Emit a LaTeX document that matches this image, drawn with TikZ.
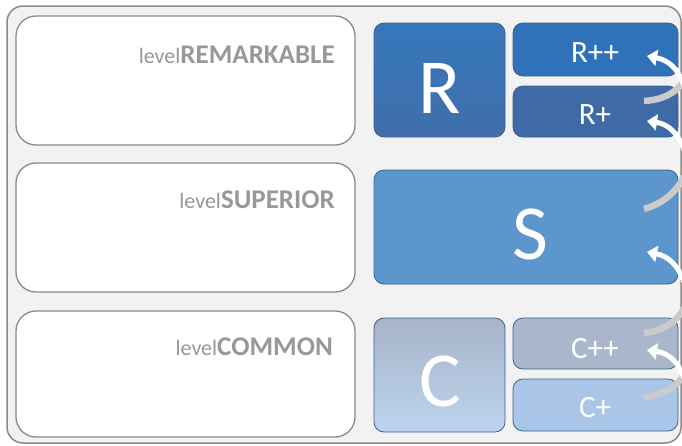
\documentclass[tikz,border=0pt]{standalone}
\usepackage{fontspec}
\setmainfont{Carlito}
\usetikzlibrary{arrows.meta}
\definecolor{framefill}{HTML}{F2F2F2}
\definecolor{framedraw}{HTML}{8A8A8A}
\definecolor{labelgray}{HTML}{989898}
\definecolor{rtop}{HTML}{3577BB}
\definecolor{rbot}{HTML}{416EAB}
\definecolor{rpp}{HTML}{2F72B9}
\definecolor{rp}{HTML}{3E6AA6}
\definecolor{sfill}{HTML}{5D96CC}
\definecolor{ctop}{HTML}{A7B4C8}
\definecolor{cbot}{HTML}{BCD4EF}
\definecolor{cpp}{HTML}{A9B6CC}
\definecolor{cp}{HTML}{A9C6E8}
\definecolor{bluedraw}{HTML}{3C5F8E}
\definecolor{arcgray}{HTML}{CBCBCB}
\tikzset{
  levelbox/.style={draw=framedraw, line width=1.3pt, fill=white, rounded corners=20pt},
  tilebox/.style={draw=bluedraw, line width=0.8pt, rounded corners=10pt},
  leveltext/.style={anchor=base east, text=labelgray, inner sep=0pt},
  bigletter/.style={text=white, font=\fontsize{78}{80}\selectfont, inner sep=0pt},
  smallletter/.style={text=white, font=\fontsize{31}{32}\selectfont, inner sep=0pt},
  whitearrow/.style={draw=white, line width=5pt, -{Triangle[width=16pt,length=10pt]}},
  grayarc/.style={draw=arcgray, line width=6.5pt}
}
\newcommand{\lvl}[1]{\fontsize{22}{24}\selectfont level\fontsize{27}{28}\selectfont\bfseries #1}
\begin{document}
\begin{tikzpicture}[x=1pt,y=-1pt]
\useasboundingbox (0,0) rectangle (682,445);
% outer frame
\draw[fill=framefill, draw=framedraw, line width=1.5pt, rounded corners=16pt] (7,6) rectangle (681,443);
% level boxes
\draw[levelbox] (16,16) rectangle (355,145);
\draw[levelbox] (16,163) rectangle (355,292);
\draw[levelbox] (16,311) rectangle (355,437);
\node[leveltext] (lr) at (335,63) {\lvl{REMARKABLE}};
\node[leveltext] (ls) at (335,208) {\lvl{SUPERIOR}};
\node[leveltext] (lc) at (333,355) {\lvl{COMMON}};
% tiles
\draw[tilebox, top color=rtop, bottom color=rbot] (374,23) rectangle (505,137);
\draw[tilebox, fill=rpp] (513,23) rectangle (678,76);
\draw[tilebox, fill=rp] (513,86) rectangle (678,137);
\draw[tilebox, fill=sfill] (374,170) rectangle (678,284);
\draw[tilebox, top color=ctop, bottom color=cbot] (374,318) rectangle (505,432);
\draw[tilebox, fill=cpp] (513,318) rectangle (678,369);
\draw[tilebox, fill=cp] (513,379) rectangle (678,431);
% tile labels
\node[bigletter] (R) at (440,88) {R};
\node[smallletter] (Rpp) at (595,53) {R++};
\node[smallletter] (Rp) at (595,115) {R+};
\node[bigletter] (S) at (530,234) {S};
\node[bigletter] (C) at (440,381) {C};
\node[smallletter] (Cpp) at (595,349) {C++};
\node[smallletter] (Cp) at (595,408) {C+};
% gray arcs
\coordinate (g1a) at (644,101); \coordinate (g1b) at (684,80);
\coordinate (g2a) at (644,209); \coordinate (g2b) at (684,176);
\coordinate (g3a) at (644,333); \coordinate (g3b) at (684,308);
\coordinate (g4a) at (644,397); \coordinate (g4b) at (684,374);
\draw[grayarc] (g1a) .. controls (662,100) and (677,93) .. (g1b);
\draw[grayarc] (g2a) .. controls (662,204) and (677,192) .. (g2b);
\draw[grayarc] (g3a) .. controls (662,331) and (677,322) .. (g3b);
\draw[grayarc] (g4a) .. controls (662,395) and (677,388) .. (g4b);
% white arrows
\coordinate (w1a) at (684,86); \coordinate (w1b) at (647,56);
\coordinate (w2a) at (684,150); \coordinate (w2b) at (647,121);
\coordinate (w3a) at (684,282); \coordinate (w3b) at (647,252);
\coordinate (w4a) at (684,378); \coordinate (w4b) at (647,350);
\draw[whitearrow] (w1a) .. controls (678,68) and (668,60) .. (w1b);
\draw[whitearrow] (w2a) .. controls (678,133) and (668,124) .. (w2b);
\draw[whitearrow] (w3a) .. controls (678,265) and (668,256) .. (w3b);
\draw[whitearrow] (w4a) .. controls (678,361) and (668,353) .. (w4b);
\end{tikzpicture}
\end{document}
